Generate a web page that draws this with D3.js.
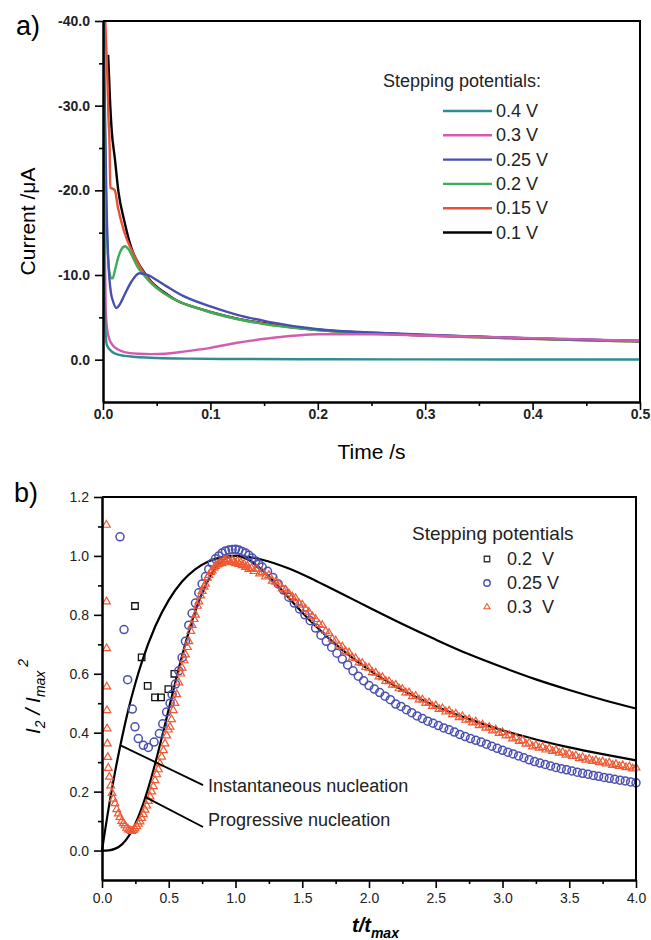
<!DOCTYPE html>
<html>
<head>
<meta charset="utf-8">
<script src="https://cdn.jsdelivr.net/npm/d3@7"></script>
<style>
  body { margin: 0; background: #fff; }
  svg { display: block; font-family: "Liberation Sans", Arial, sans-serif; }
</style>
</head>
<body>
<svg id="fig" width="651" height="940"></svg>
<script>
// DATA: panel a) chronoamperometric transients (time /s, current /uA)
const seriesA = ["0.4 V", "0.3 V", "0.25 V", "0.2 V", "0.15 V", "0.1 V"];
const colorsA = ["#2f8c92", "#d45cb0", "#4650b0", "#3cae58", "#ea5034", "#000000"];

const t04 = [0, 0.0015, 0.0025, 0.0035, 0.005, 0.007, 0.01, 0.014, 0.02, 0.028, 0.04, 0.05, 0.08, 0.12, 0.2, 0.3, 0.4, 0.5];
const i04 = [-45, -8, -3, -1.8, -1.4, -1.1, -0.8, -0.6, -0.45, -0.35, -0.25, -0.2, -0.12, -0.08, -0.05, -0.03, -0.02, -0.02];

const t03 = [0, 0.0015, 0.0025, 0.004, 0.006, 0.009, 0.014, 0.02, 0.033, 0.045, 0.058, 0.075, 0.1, 0.125, 0.153, 0.18, 0.2, 0.25, 0.3, 0.35, 0.4, 0.45, 0.5];
const i03 = [-45, -15, -6, -3.5, -2.4, -1.7, -1.2, -0.9, -0.7, -0.65, -0.7, -0.95, -1.4, -2.0, -2.5, -2.85, -3.0, -3.0, -2.85, -2.7, -2.55, -2.4, -2.2];

const t025 = [0, 0.0015, 0.003, 0.0045, 0.006, 0.0075, 0.0093, 0.0124, 0.0155, 0.0202, 0.0264, 0.034, 0.042, 0.05, 0.06, 0.075, 0.1, 0.125, 0.153, 0.2, 0.25, 0.3, 0.35, 0.4, 0.45, 0.5];
const i025 = [-45, -32, -20, -13, -9.5, -7.8, -6.9, -6.1, -6.5, -7.7, -9.2, -10.2, -10.0, -9.4, -8.6, -7.5, -6.3, -5.3, -4.5, -3.6, -3.2, -2.95, -2.7, -2.5, -2.35, -2.2];

const t02 = [0, 0.0015, 0.003, 0.0045, 0.006, 0.0078, 0.009, 0.011, 0.014, 0.017, 0.0205, 0.024, 0.028, 0.032, 0.038, 0.045, 0.0575, 0.07, 0.085, 0.1, 0.125, 0.15, 0.2, 0.25, 0.3, 0.35, 0.4, 0.45, 0.5];
const i02 = [-45, -30, -18, -12.5, -10.3, -9.6, -9.6, -10.5, -12.0, -13.0, -13.4, -13.0, -12.0, -11.0, -10.0, -9.0, -7.8, -6.9, -6.2, -5.6, -4.8, -4.2, -3.5, -3.1, -2.85, -2.65, -2.45, -2.3, -2.15];

const t015 = [0, 0.0015, 0.003, 0.004, 0.005, 0.0062, 0.0068, 0.009, 0.011, 0.014, 0.0186, 0.022, 0.0264, 0.0357, 0.045, 0.0575, 0.07, 0.085, 0.1, 0.125, 0.15, 0.2, 0.25, 0.3, 0.35, 0.4, 0.45, 0.5];
const i015 = [-45, -42, -37, -33.6, -29, -25, -20.3, -20.2, -20, -17.9, -15.6, -14.3, -13.0, -10.7, -9.1, -7.8, -6.9, -6.2, -5.6, -4.8, -4.25, -3.5, -3.1, -2.85, -2.65, -2.45, -2.3, -2.15];

const t01 = [0.0048, 0.0065, 0.0081, 0.011, 0.0143, 0.02, 0.0264, 0.0357, 0.045, 0.0575, 0.07, 0.085, 0.1, 0.125, 0.15, 0.2, 0.25, 0.3, 0.35, 0.4, 0.45, 0.5];
const i01 = [-36, -30.7, -27.1, -23.8, -19.9, -16.3, -13.2, -10.8, -9.2, -7.9, -6.9, -6.2, -5.65, -4.85, -4.3, -3.55, -3.15, -2.9, -2.7, -2.5, -2.35, -2.2];

const timesA = [t04, t03, t025, t02, t015, t01];
const currentsA = [i04, i03, i025, i02, i015, i01];

const xTicksA = [0, 0.1, 0.2, 0.3, 0.4, 0.5];
const xMinorA = [0.05, 0.15, 0.25, 0.35, 0.45];
const yTicksA = [-40, -30, -20, -10, 0];
const yMinorA = [-35, -25, -15, -5];

// DATA: panel b) normalised transients, t/tmax vs I^2/Imax^2
const seriesB = ["0.2  V", "0.25 V", "0.3  V"];

const pts02 = [[0.247, 0.83], [0.297, 0.656], [0.342, 0.559], [0.397, 0.52], [0.442, 0.52], [0.497, 0.548], [0.542, 0.60]];

const pts025 = [[0.135, 1.065], [0.165, 0.75], [0.192, 0.58], [0.227, 0.48], [0.247, 0.42], [0.272, 0.38], [0.31, 0.357],
  [0.347, 0.35], [0.39, 0.368], [0.43, 0.397], [0.455, 0.43], [0.484, 0.47], [0.51, 0.50],
  [0.525, 0.53], [0.55, 0.565], [0.575, 0.61], [0.6, 0.655], [0.625, 0.71], [0.65, 0.765], [0.675, 0.805], [0.7, 0.84],
  [0.725, 0.875], [0.75, 0.905], [0.775, 0.93], [0.8, 0.955], [0.825, 0.975], [0.85, 0.99], [0.875, 1.0], [0.9, 1.01],
  [0.925, 1.017], [0.95, 1.02], [0.975, 1.022], [1.0, 1.023], [1.025, 1.02], [1.05, 1.015], [1.075, 1.01], [1.1, 1.002],
  [1.125, 0.993], [1.15, 0.983], [1.175, 0.972], [1.2, 0.962], [1.24, 0.948], [1.28, 0.927], [1.32, 0.905], [1.36, 0.884],
  [1.4, 0.86], [1.44, 0.84], [1.48, 0.82], [1.52, 0.8], [1.56, 0.78], [1.6, 0.755], [1.64, 0.731], [1.68, 0.71],
  [1.72, 0.69], [1.76, 0.67], [1.8, 0.65], [1.84, 0.63], [1.88, 0.61], [1.92, 0.592], [1.96, 0.576], [2.0, 0.56],
  [2.04, 0.548], [2.08, 0.536], [2.12, 0.524], [2.16, 0.512], [2.2, 0.497], [2.24, 0.489], [2.28, 0.478], [2.32, 0.468],
  [2.36, 0.457], [2.4, 0.448], [2.44, 0.439], [2.48, 0.432], [2.52, 0.424], [2.56, 0.416], [2.6, 0.41], [2.64, 0.402],
  [2.68, 0.394], [2.72, 0.387], [2.76, 0.38], [2.8, 0.374], [2.84, 0.368], [2.88, 0.361], [2.92, 0.354], [2.96, 0.347],
  [3.0, 0.34], [3.04, 0.334], [3.08, 0.328], [3.12, 0.321], [3.16, 0.315], [3.2, 0.308], [3.24, 0.302], [3.28, 0.297],
  [3.32, 0.292], [3.36, 0.287], [3.4, 0.282], [3.44, 0.278], [3.48, 0.274], [3.52, 0.27], [3.56, 0.266], [3.6, 0.262],
  [3.64, 0.259], [3.68, 0.255], [3.72, 0.252], [3.76, 0.248], [3.8, 0.245], [3.84, 0.242], [3.88, 0.239], [3.92, 0.236],
  [3.96, 0.233], [4.0, 0.23]];

const pts03 = [[0.033, 1.105], [0.034, 0.845], [0.035, 0.686], [0.036, 0.556], [0.037, 0.476], [0.038, 0.414], [0.04, 0.363],
  [0.043, 0.317], [0.047, 0.28], [0.055, 0.25], [0.065, 0.22], [0.075, 0.195], [0.085, 0.175], [0.097, 0.16], [0.11, 0.14],
  [0.122, 0.125], [0.135, 0.113], [0.148, 0.1], [0.16, 0.092], [0.172, 0.085], [0.185, 0.077], [0.198, 0.071], [0.21, 0.068],
  [0.222, 0.066], [0.235, 0.069], [0.247, 0.074], [0.26, 0.082], [0.272, 0.09], [0.285, 0.098], [0.297, 0.11], [0.31, 0.123],
  [0.322, 0.138], [0.335, 0.152], [0.347, 0.168], [0.36, 0.183], [0.372, 0.2], [0.385, 0.218], [0.397, 0.238], [0.41, 0.258],
  [0.422, 0.275], [0.434, 0.295], [0.447, 0.318], [0.46, 0.34], [0.472, 0.363], [0.485, 0.39], [0.497, 0.41], [0.509, 0.42],
  [0.521, 0.445], [0.534, 0.476], [0.547, 0.5], [0.56, 0.53], [0.575, 0.57], [0.59, 0.6], [0.6, 0.62], [0.615, 0.645],
  [0.625, 0.665], [0.64, 0.69], [0.65, 0.71], [0.665, 0.745], [0.675, 0.765], [0.69, 0.785], [0.7, 0.8], [0.715, 0.83],
  [0.725, 0.845], [0.74, 0.865], [0.75, 0.88], [0.765, 0.895], [0.775, 0.905], [0.79, 0.925], [0.8, 0.935], [0.815, 0.945],
  [0.825, 0.95], [0.84, 0.96], [0.85, 0.965], [0.865, 0.97], [0.875, 0.972], [0.89, 0.978], [0.9, 0.975], [0.915, 0.985],
  [0.925, 0.982], [0.94, 0.988], [0.95, 0.984], [0.965, 0.978], [0.975, 0.986], [0.99, 0.98], [1.0, 0.975], [1.015, 0.982],
  [1.025, 0.972], [1.04, 0.978], [1.05, 0.968], [1.065, 0.972], [1.075, 0.962], [1.09, 0.966], [1.1, 0.955], [1.12, 0.958],
  [1.14, 0.948], [1.16, 0.955], [1.18, 0.94], [1.2, 0.945], [1.225, 0.93], [1.25, 0.935], [1.275, 0.915], [1.3, 0.912],
  [1.325, 0.905], [1.35, 0.89], [1.375, 0.885], [1.4, 0.872], [1.425, 0.862], [1.45, 0.856], [1.475, 0.84], [1.5, 0.834],
  [1.525, 0.82], [1.55, 0.81], [1.575, 0.795], [1.6, 0.785], [1.625, 0.768], [1.65, 0.765], [1.675, 0.745], [1.7, 0.738],
  [1.725, 0.718], [1.75, 0.712], [1.775, 0.695], [1.8, 0.692], [1.825, 0.676], [1.85, 0.672], [1.875, 0.655], [1.9, 0.652],
  [1.925, 0.638], [1.95, 0.636], [1.975, 0.622], [2.0, 0.62], [2.025, 0.605], [2.05, 0.603], [2.075, 0.59], [2.1, 0.588],
  [2.125, 0.575], [2.15, 0.574], [2.175, 0.562], [2.2, 0.562], [2.225, 0.55], [2.25, 0.548], [2.275, 0.536], [2.3, 0.536],
  [2.325, 0.523], [2.35, 0.524], [2.375, 0.512], [2.4, 0.512], [2.425, 0.5], [2.45, 0.502], [2.475, 0.49], [2.5, 0.492],
  [2.525, 0.48], [2.55, 0.482], [2.575, 0.471], [2.6, 0.474], [2.625, 0.462], [2.65, 0.464], [2.675, 0.452], [2.7, 0.455],
  [2.725, 0.443], [2.75, 0.445], [2.775, 0.434], [2.8, 0.437], [2.825, 0.425], [2.85, 0.427], [2.875, 0.416], [2.9, 0.419],
  [2.925, 0.407], [2.95, 0.41], [2.975, 0.398], [3.0, 0.401], [3.025, 0.39], [3.05, 0.392], [3.075, 0.38], [3.1, 0.383],
  [3.125, 0.371], [3.15, 0.374], [3.175, 0.362], [3.2, 0.365], [3.225, 0.353], [3.25, 0.357], [3.275, 0.348], [3.3, 0.351],
  [3.325, 0.342], [3.35, 0.346], [3.375, 0.337], [3.4, 0.341], [3.425, 0.331], [3.45, 0.334], [3.475, 0.325], [3.5, 0.329],
  [3.525, 0.32], [3.55, 0.322], [3.575, 0.313], [3.6, 0.316], [3.625, 0.308], [3.65, 0.311], [3.675, 0.303], [3.7, 0.306],
  [3.725, 0.299], [3.75, 0.302], [3.775, 0.295], [3.8, 0.298], [3.825, 0.29], [3.85, 0.293], [3.875, 0.286], [3.9, 0.289],
  [3.925, 0.282], [3.95, 0.285], [3.975, 0.278], [4.0, 0.281]];

// theoretical curves
const tInst = [0, 0.05, 0.1, 0.15, 0.2, 0.25, 0.3, 0.4, 0.5, 0.6, 0.7, 0.8, 0.9, 1.0, 1.1, 1.2, 1.4, 1.6, 1.8, 2.0, 2.25, 2.5, 2.75, 3.0, 3.25, 3.5, 3.75, 4.0];
const vInst = [0, 0.145, 0.272, 0.384, 0.483, 0.568, 0.642, 0.762, 0.85, 0.913, 0.955, 0.982, 0.996, 1.0, 0.996, 0.987, 0.957, 0.916, 0.871, 0.825, 0.769, 0.716, 0.666, 0.622, 0.581, 0.545, 0.512, 0.482];
const tProg = [0, 0.05, 0.1, 0.15, 0.2, 0.25, 0.3, 0.35, 0.4, 0.45, 0.5, 0.6, 0.7, 0.8, 0.9, 1.0, 1.1, 1.2, 1.3, 1.4, 1.5, 1.6, 1.8, 2.0, 2.25, 2.5, 2.75, 3.0, 3.25, 3.5, 3.75, 4.0];
const vProg = [0, 0.0008, 0.0065, 0.021, 0.049, 0.091, 0.147, 0.217, 0.298, 0.387, 0.48, 0.661, 0.814, 0.922, 0.982, 1.0, 0.986, 0.952, 0.907, 0.857, 0.808, 0.762, 0.681, 0.613, 0.545, 0.49, 0.446, 0.408, 0.377, 0.35, 0.327, 0.306];

const xTicksB = [0, 0.5, 1.0, 1.5, 2.0, 2.5, 3.0, 3.5, 4.0];
const xMinorB = [0.25, 0.75, 1.25, 1.75, 2.25, 2.75, 3.25, 3.75];
const yTicksB = [0, 0.2, 0.4, 0.6, 0.8, 1.0, 1.2];
const yMinorB = [0.1, 0.3, 0.5, 0.7, 0.9, 1.1];

const svg = d3.select("#fig");
const fmt1 = d => d.toFixed(1);

function styleAxis(g) {
  g.attr("font-family", null).attr("font-size", null);
  g.selectAll("path").attr("stroke", "#000").attr("stroke-width", 2);
  g.selectAll("line").attr("stroke", "#000").attr("stroke-width", 1.6);
}

/* ===================== PANEL a) ===================== */
const A = { left: 103, right: 640, top: 21, bottom: 402 };
const xA = d3.scaleLinear().domain([0, 0.5]).range([A.left, A.right]);
const yA = d3.scaleLinear().domain([5, -40]).range([A.bottom, A.top]);

svg.append("clipPath").attr("id", "clipA")
  .append("rect").attr("x", A.left).attr("y", A.top)
  .attr("width", A.right - A.left).attr("height", A.bottom - A.top);

// lines
const lineA = d3.line().x(d => xA(d[0])).y(d => yA(d[1])).curve(d3.curveMonotoneX);
const drawOrder = [5, 4, 3, 2, 1, 0];
const gLines = svg.append("g").attr("clip-path", "url(#clipA)");
drawOrder.forEach(k => {
  gLines.append("path")
    .datum(timesA[k].map((t, i) => [t, currentsA[k][i]]))
    .attr("fill", "none")
    .attr("stroke", colorsA[k])
    .attr("stroke-width", 2.4)
    .attr("d", lineA);
});

// axes
svg.append("g").attr("transform", `translate(0,${A.bottom})`)
  .call(d3.axisBottom(xA).tickValues(xMinorA).tickSize(4).tickFormat("").tickSizeOuter(0)).call(styleAxis);
svg.append("g").attr("transform", `translate(0,${A.bottom})`)
  .call(d3.axisBottom(xA).tickValues(xTicksA).tickSize(8).tickPadding(-1).tickFormat(fmt1).tickSizeOuter(0))
  .call(styleAxis)
  .selectAll("text").attr("font-size", 14).attr("font-weight", "bold").attr("fill", "#222");
svg.append("g").attr("transform", `translate(${A.left},0)`)
  .call(d3.axisLeft(yA).tickValues(yMinorA).tickSize(4).tickFormat("").tickSizeOuter(0)).call(styleAxis);
svg.append("g").attr("transform", `translate(${A.left},0)`)
  .call(d3.axisLeft(yA).tickValues(yTicksA).tickSize(8).tickPadding(5).tickFormat(fmt1).tickSizeOuter(0))
  .call(styleAxis)
  .selectAll("text").attr("font-size", 14).attr("font-weight", "bold").attr("fill", "#222");

// frame
svg.append("path")
  .attr("d", `M${A.left},${A.top}H${A.right}V${A.bottom}`)
  .attr("fill", "none").attr("stroke", "#000").attr("stroke-width", 2);

// labels
svg.append("text").attr("x", 16).attr("y", 35).attr("font-size", 27).text("a)");
svg.append("text").attr("x", (A.left + A.right) / 2).attr("y", 459)
  .attr("text-anchor", "middle").attr("font-size", 21).text("Time /s");
svg.append("text").attr("transform", `translate(35,${(A.top + A.bottom) / 2 + 10}) rotate(-90)`)
  .attr("text-anchor", "middle").attr("font-size", 21).text("Current /\u03bcA");

// legend
svg.append("text").attr("x", 383).attr("y", 87).attr("font-size", 18).attr("fill", "#222")
  .text("Stepping potentials:");
const legA = svg.append("g");
seriesA.forEach((s, k) => {
  const y = 117 + k * 24.3;
  legA.append("line").attr("x1", 443).attr("x2", 492).attr("y1", y - 6).attr("y2", y - 6)
    .attr("stroke", colorsA[k]).attr("stroke-width", 2.4);
  legA.append("text").attr("x", 496).attr("y", y).attr("font-size", 18).attr("fill", "#222").text(s);
});

/* ===================== PANEL b) ===================== */
const B = { left: 102, right: 636, top: 497, bottom: 880 };
const xB = d3.scaleLinear().domain([0, 4]).range([B.left, B.right]);
const yB = d3.scaleLinear().domain([-0.1, 1.2]).range([B.bottom, B.top]);

const cBlue = "#4a4fb0", cOrange = "#ef5a34";
const triangle = d3.symbol(d3.symbolTriangle, 26);
const square = d3.symbol(d3.symbolSquare, 42);

// theoretical curves (under the markers)
const lineB = d3.line().x(d => xB(d[0])).y(d => yB(d[1])).curve(d3.curveMonotoneX);
[[tInst, vInst], [tProg, vProg]].forEach(([ts, vs]) => {
  svg.append("path").datum(ts.map((t, i) => [t, vs[i]]))
    .attr("fill", "none").attr("stroke", "#000").attr("stroke-width", 2.2).attr("d", lineB);
});

// markers: 0.2 V squares, 0.25 V circles, 0.3 V triangles
svg.append("g").selectAll("path").data(pts02).join("path")
  .attr("d", square).attr("transform", d => `translate(${xB(d[0])},${yB(d[1])})`)
  .attr("fill", "none").attr("stroke", "#111").attr("stroke-width", 1.3);
svg.append("g").selectAll("circle").data(pts025).join("circle")
  .attr("cx", d => xB(d[0])).attr("cy", d => yB(d[1])).attr("r", 4)
  .attr("fill", "none").attr("stroke", cBlue).attr("stroke-width", 1.5);
svg.append("g").selectAll("path").data(pts03).join("path")
  .attr("d", triangle).attr("transform", d => `translate(${xB(d[0])},${yB(d[1])})`)
  .attr("fill", "none").attr("stroke", cOrange).attr("stroke-width", 1.2);

// annotation pointers
const notes = [
  { from: [0.135, 0.358], to: [0.757, 0.222], text: "Instantaneous nucleation", ty: 0.2 },
  { from: [0.322, 0.182], to: [0.757, 0.08], text: "Progressive nucleation", ty: 0.082 }
];
notes.forEach(n => {
  svg.append("line")
    .attr("x1", xB(n.from[0])).attr("y1", yB(n.from[1]))
    .attr("x2", xB(n.to[0])).attr("y2", yB(n.to[1]))
    .attr("stroke", "#000").attr("stroke-width", 1.8);
  svg.append("text").attr("x", xB(n.to[0]) + 5).attr("y", yB(n.ty))
    .attr("font-size", 18).attr("fill", "#222").text(n.text);
});

// axes
svg.append("g").attr("transform", `translate(0,${B.bottom})`)
  .call(d3.axisBottom(xB).tickValues(xMinorB).tickSize(4).tickFormat("").tickSizeOuter(0)).call(styleAxis);
svg.append("g").attr("transform", `translate(0,${B.bottom})`)
  .call(d3.axisBottom(xB).tickValues(xTicksB).tickSize(8).tickPadding(5).tickFormat(fmt1).tickSizeOuter(0))
  .call(styleAxis)
  .selectAll("text").attr("font-size", 14).attr("fill", "#222");
svg.append("g").attr("transform", `translate(${B.left},0)`)
  .call(d3.axisLeft(yB).tickValues(yMinorB).tickSize(4).tickFormat("").tickSizeOuter(0)).call(styleAxis);
svg.append("g").attr("transform", `translate(${B.left},0)`)
  .call(d3.axisLeft(yB).tickValues(yTicksB).tickSize(8).tickPadding(5).tickFormat(fmt1).tickSizeOuter(0))
  .call(styleAxis)
  .selectAll("text").attr("font-size", 14).attr("fill", "#222");

svg.append("path")
  .attr("d", `M${B.left},${B.top}H${B.right}V${B.bottom}`)
  .attr("fill", "none").attr("stroke", "#000").attr("stroke-width", 2);

// labels
svg.append("text").attr("x", 14).attr("y", 502).attr("font-size", 27).text("b)");

const xl = svg.append("text").attr("x", 352).attr("y", 932)
  .attr("font-size", 20).attr("font-weight", "bold").attr("font-style", "italic");
xl.append("tspan").text("t/t");
xl.append("tspan").attr("dy", 6).attr("font-size", 14).text("max");

const yl = svg.append("text").attr("transform", `translate(40,${(B.top + B.bottom) / 2 + 8}) rotate(-90)`)
  .attr("text-anchor", "middle").attr("font-size", 21).attr("font-style", "italic");
yl.append("tspan").text("I");
yl.append("tspan").attr("dy", 5).attr("font-size", 14).text("2");
yl.append("tspan").attr("dy", -5).text(" / I");
yl.append("tspan").attr("dy", 5).attr("font-size", 14).text("max");
yl.append("tspan").attr("dy", -17).attr("font-size", 14).text(" 2");

// legend
svg.append("text").attr("x", 412).attr("y", 540).attr("font-size", 19).attr("fill", "#222")
  .text("Stepping potentials");
const legB = svg.append("g");
const legRows = [565, 589, 613];
legB.append("path").attr("d", d3.symbol(d3.symbolSquare, 30))
  .attr("transform", `translate(487,${legRows[0] - 6})`)
  .attr("fill", "none").attr("stroke", "#333").attr("stroke-width", 1.3);
legB.append("circle").attr("cx", 487).attr("cy", legRows[1] - 6).attr("r", 3.2)
  .attr("fill", "none").attr("stroke", cBlue).attr("stroke-width", 1.4);
legB.append("path").attr("d", d3.symbol(d3.symbolTriangle, 16))
  .attr("transform", `translate(487,${legRows[2] - 6})`)
  .attr("fill", "none").attr("stroke", cOrange).attr("stroke-width", 1.1);
seriesB.forEach((s, k) => {
  legB.append("text").attr("x", 507).attr("y", legRows[k]).attr("font-size", 18).attr("fill", "#222")
    .style("white-space", "pre").text(s);
});
</script>
</body>
</html>
